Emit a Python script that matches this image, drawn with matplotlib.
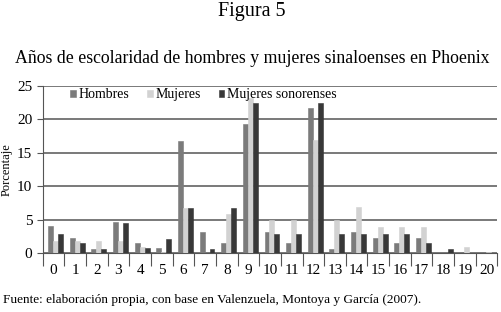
import numpy as np
import matplotlib.pyplot as plt

plt.rcParams['font.family'] = ['Liberation Serif', 'DejaVu Serif']

years = [str(i) for i in range(21)]
hombres = [4.0, 2.2, 0.6, 4.7, 1.5, 0.7, 16.8, 3.1, 1.5, 19.3, 3.1,
           1.5, 21.7, 0.6, 3.1, 2.2, 1.5, 2.2, 0.1, 0.0, 0.0]
mujeres = [1.8, 1.8, 1.8, 1.8, 0.9, 0.1, 6.8, 0.0, 5.9, 23.2, 4.9,
           4.9, 17.0, 4.9, 6.9, 3.9, 3.9, 3.9, 0.0, 0.9, 0.15]
sonorenses = [2.9, 1.5, 0.6, 4.5, 0.7, 2.1, 6.8, 0.6, 6.8, 22.5, 2.9,
              2.9, 22.4, 2.9, 2.9, 2.9, 2.9, 1.5, 0.6, 0.0, 0.0]

series = [("Hombres", hombres, "#7b7b7b"),
          ("Mujeres", mujeres, "#d2d2d2"),
          ("Mujeres sonorenses", sonorenses, "#383838")]

fig = plt.figure(figsize=(5.01, 3.12), dpi=100)
ax = fig.add_axes([0.0852, 0.189, 0.9076, 0.535])

x = np.arange(len(years))
w = 0.23
offsets = [-0.14, 0.09, 0.32]
for (name, vals, col), off in zip(series, offsets):
    ax.bar(x + off, vals, width=w, color=col, edgecolor=col,
           linewidth=0.4, label=name, zorder=3)

ax.set_xlim(-0.5, 20.5)
ax.set_ylim(0, 25)
ax.set_yticks(range(0, 26, 5))
ax.grid(axis='y', color='#555555', linewidth=1.1, zorder=0)
ax.set_xticks(x)
ax.set_xticklabels(years, fontsize=11)
ax.set_xticks(np.arange(-0.5, 21, 1), minor=True)
ax.tick_params(axis='x', which='major', length=0, pad=8)
ax.tick_params(axis='x', which='minor', length=9, width=0.8, color='#555555')
ax.tick_params(axis='y', labelsize=11, length=4, width=0.8, color='#555555')
for s in ['top', 'right']:
    ax.spines[s].set_visible(False)
ax.spines['left'].set_color('#555555')
ax.spines['bottom'].set_color('#555555')
ax.set_ylabel("Porcentaje", fontsize=9, labelpad=3)

ax.legend(loc='center left', bbox_to_anchor=(0.06, 0.948), ncol=3,
          frameon=False, fontsize=10, handlelength=0.4, handleheight=0.4,
          handletextpad=0.2, columnspacing=1.3, borderpad=0, borderaxespad=0)

fig.text(0.503, 0.962, "Figura 5", ha='center', va='center', fontsize=14.5)
fig.text(0.503, 0.812, "Años de escolaridad de hombres y mujeres sinaloenses en Phoenix",
         ha='center', va='center', fontsize=12.8)
fig.text(0.006, 0.04, "Fuente: elaboración propia, con base en Valenzuela, Montoya y García (2007).",
         ha='left', va='center', fontsize=9.5)

fig.savefig("out.png", dpi=100)
